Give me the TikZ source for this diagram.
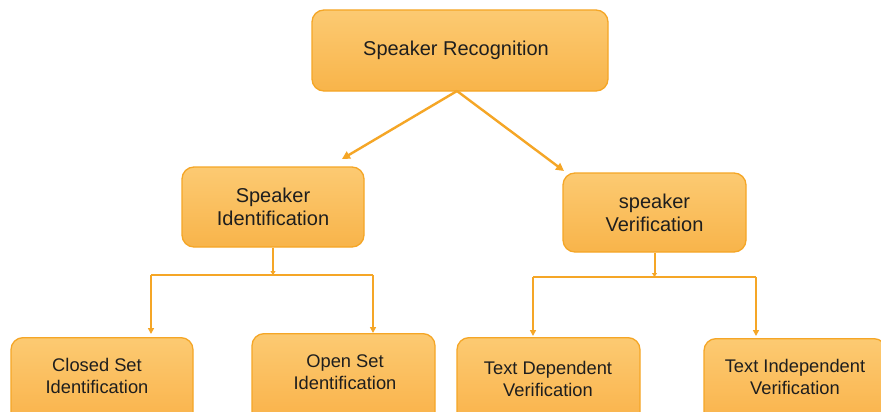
\documentclass[tikz,border=0pt]{standalone}
\usepackage{fontspec}
\setmainfont{Liberation Sans}
\usetikzlibrary{arrows.meta}
\definecolor{boxtop}{RGB}{252,202,114}
\definecolor{boxbot}{RGB}{248,180,74}
\definecolor{edgec}{RGB}{245,166,38}
\definecolor{txt}{RGB}{30,30,30}
\begin{document}
\begin{tikzpicture}[x=1pt,y=-1pt,
  box/.style={draw=edgec, line width=1.3pt, rounded corners=12pt, top color=boxtop, bottom color=boxbot, text=txt, align=center, inner sep=0pt},
  big/.style={font=\fontsize{20}{23}\selectfont},
  small/.style={font=\fontsize{18.3}{22}\selectfont},
  lowbox/.style={box, anchor=north, minimum height=110pt, top color=boxtop, bottom color=boxbot!85!orange},
  lbl/.style={small, text=txt, align=center},
  conn/.style={draw=edgec, line width=2pt},
  bigtip/.style={-{Triangle[length=8pt,width=8pt]}},
  tip/.style={-{Triangle[length=6pt,width=6pt]}},
  minitip/.style={-{Triangle[length=4pt,width=5pt]}}
]
\clip (0,0) rectangle (881,412);
\fill[white] (0,0) rectangle (881,412);
% nodes
\node[box,big,minimum width=296pt,minimum height=81pt] (top) at (460,50.5) {\hspace{-8pt}Speaker Recognition};
\node[box,big,minimum width=182pt,minimum height=80pt] (sid) at (273,207) {Speaker\\Identification};
\node[box,big,minimum width=183pt,minimum height=79pt] (sver) at (654.5,212.5) {speaker\\Verification};
\node[lowbox,minimum width=182pt] (closed) at (102,337) {};
\node[lbl] (closedl) at (97,376) {Closed Set\\Identification};
\node[lowbox,minimum width=183pt] (open) at (343.5,333) {};
\node[lbl] (openl) at (345,372) {Open Set\\Identification};
\node[lowbox,minimum width=183pt] (tdep) at (548.5,337) {};
\node[lbl] (tdepl) at (548,379) {Text Dependent\\Verification};
\node[lowbox,minimum width=182pt] (tind) at (795,338) {};
\node[lbl] (tindl) at (795,377) {Text Independent\\Verification};
% coordinates
\coordinate (ts) at (457,91);
\coordinate (lt) at (342,159);
\coordinate (rt) at (564,171);
\coordinate (sj) at (273,275);
\coordinate (sjl) at (151,275);
\coordinate (sjr) at (373,275);
\coordinate (cl) at (151,334);
\coordinate (op) at (373,333);
\coordinate (vj) at (654.5,277);
\coordinate (vjl) at (533,277);
\coordinate (vjr) at (756,277);
\coordinate (td) at (533,336);
\coordinate (ti) at (756,336);
% connectors
\draw[conn,line width=2.4pt,bigtip] (ts) -- (lt);
\draw[conn,line width=2.4pt,bigtip] (ts) -- (rt);
\draw[conn,minitip] (sid.south) -- (sj);
\draw[conn] (sjl) -- (sjr);
\draw[conn,tip] (sjl) -- (cl);
\draw[conn,tip] (sjr) -- (op);
\draw[conn,minitip] (sver.south) -- (vj);
\draw[conn] (vjl) -- (vjr);
\draw[conn,tip] (vjl) -- (td);
\draw[conn,tip] (vjr) -- (ti);
\end{tikzpicture}
\end{document}
